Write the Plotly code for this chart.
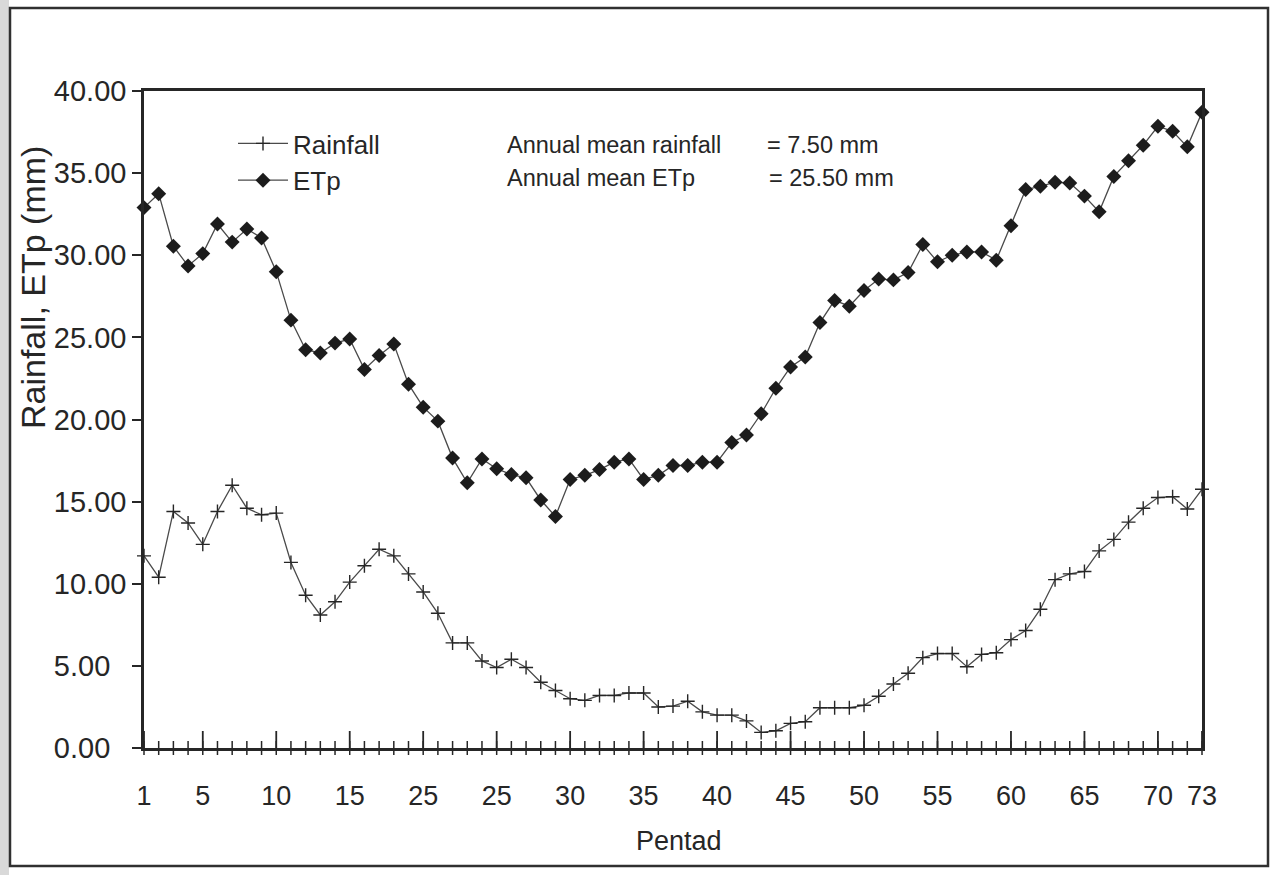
import plotly.graph_objects as go

# Pentad index (1..73) and pentad totals in mm
pentads = list(range(1, 74))

rainfall = [11.7, 10.4, 14.4, 13.7, 12.4, 14.4, 16.0, 14.6, 14.2, 14.3,
            11.3, 9.3, 8.1, 8.9, 10.1, 11.1, 12.1, 11.7, 10.6, 9.5,
            8.2, 6.4, 6.4, 5.3, 4.9, 5.4, 4.9, 4.0, 3.5, 3.0,
            2.9, 3.2, 3.2, 3.35, 3.35, 2.5, 2.55, 2.85, 2.2, 2.0,
            2.0, 1.65, 0.95, 1.05, 1.5, 1.6, 2.45, 2.45, 2.45, 2.6,
            3.15, 3.9, 4.55, 5.5, 5.75, 5.75, 4.95, 5.7, 5.8, 6.6,
            7.15, 8.45, 10.25, 10.6, 10.75, 12.0, 12.7, 13.75, 14.6, 15.25,
            15.3, 14.55, 15.75]

etp = [32.9, 33.75, 30.55, 29.35, 30.1, 31.9, 30.8, 31.6, 31.05, 29.0,
       26.05, 24.25, 24.05, 24.65, 24.9, 23.05, 23.9, 24.6, 22.15, 20.75,
       19.9, 17.65, 16.15, 17.6, 17.0, 16.65, 16.45, 15.1, 14.1, 16.35,
       16.6, 16.95, 17.4, 17.6, 16.35, 16.6, 17.2, 17.2, 17.4, 17.4,
       18.6, 19.05, 20.35, 21.9, 23.2, 23.8, 25.9, 27.25, 26.9, 27.85,
       28.55, 28.5, 28.95, 30.65, 29.6, 30.0, 30.2, 30.2, 29.7, 31.8,
       34.0, 34.2, 34.45, 34.4, 33.6, 32.65, 34.8, 35.75, 36.7, 37.85,
       37.55, 36.6, 38.7]

x_tick_vals = [1, 5, 10, 15, 20, 25, 30, 35, 40, 45, 50, 55, 60, 65, 70, 73]
x_tick_text = ["1", "5", "10", "15", "25", "25", "30", "35", "40", "45",
               "50", "55", "60", "65", "70", "73"]
y_tick_vals = [0, 5, 10, 15, 20, 25, 30, 35, 40]
y_tick_text = ["0.00", "5.00", "10.00", "15.00", "20.00", "25.00", "30.00",
               "35.00", "40.00"]

summary_labels = ["Annual mean rainfall", "Annual mean ETp"]
summary_values = ["= 7.50 mm", "= 25.50 mm"]

FONT = "Liberation Sans, Arial, Helvetica, sans-serif"
INK = "#262626"
LINE = "#4a4a4a"

# plot-area geometry in pixels, used to place free text in paper units
L, R, T, B = 144, 1202, 91, 748
W, H = R - L, B - T


def px_x(px):
    return (px - L) / W


def px_y(py):
    return (B - py) / H


# left-align the y tick labels by padding short ones with figure spaces
y_width = max(len(t) for t in y_tick_text)
y_tick_labels = [t + "\u2007" * (y_width - len(t)) for t in y_tick_text]

fig = go.Figure()

fig.add_trace(go.Scatter(
    x=pentads, y=rainfall, name="Rainfall", mode="lines+markers",
    line=dict(color=LINE, width=1.3),
    marker=dict(symbol="cross-thin", size=10, line=dict(color=INK, width=1.4)),
    cliponaxis=False,
))

fig.add_trace(go.Scatter(
    x=pentads, y=etp, name="ETp", mode="lines+markers",
    line=dict(color=LINE, width=1.3),
    marker=dict(symbol="diamond", size=11.5, color="#1c1c1c"),
    cliponaxis=False,
))

# small per-pentad ticks that straddle the horizontal axis
fig.add_trace(go.Scatter(
    x=pentads, y=[0] * len(pentads), mode="markers", showlegend=False,
    hoverinfo="skip",
    marker=dict(symbol="line-ns", size=10, line=dict(color=INK, width=1.5)),
    cliponaxis=False,
))

# long tick marks at the labelled pentads: 17 px above the axis, 8 px below
major_ticks = [
    dict(type="line", xref="x", yref="y", x0=v, x1=v,
         ysizemode="pixel", yanchor=0, y0=-8, y1=17,
         line=dict(color=INK, width=1.8), layer="above")
    for v in x_tick_vals
]

fig.update_xaxes(
    range=[1, 73], tickmode="array", tickvals=x_tick_vals, ticktext=x_tick_text,
    ticks="", showline=True, linewidth=2.5, linecolor=INK, mirror=True,
    showgrid=False, zeroline=False,
    tickfont=dict(family=FONT, size=27, color=INK),
    ticklabelstandoff=22,
)

fig.update_yaxes(
    range=[0, 40], tickmode="array", tickvals=y_tick_vals,
    ticktext=y_tick_labels,
    ticks="outside", ticklen=9, tickwidth=1.5, tickcolor=INK,
    showline=True, linewidth=2.5, linecolor=INK, mirror=True,
    showgrid=False, zeroline=False,
    tickfont=dict(family=FONT, size=29, color=INK),
)

annotations = [
    dict(text="Rainfall, ETp (mm)", textangle=-90, x=px_x(33), y=px_y(288),
         xref="paper", yref="paper", showarrow=False,
         xanchor="center", yanchor="middle",
         font=dict(family=FONT, size=34, color=INK)),
    dict(text="Pentad", x=px_x(679), y=px_y(841), xref="paper", yref="paper",
         showarrow=False, xanchor="center", yanchor="middle",
         font=dict(family=FONT, size=27, color=INK)),
]
rows_y = [145, 178]
value_x = [765, 767]
for lab, val, ry, vx in zip(summary_labels, summary_values, rows_y, value_x):
    annotations.append(dict(text=lab, x=px_x(505), y=px_y(ry), xref="paper",
                            yref="paper", showarrow=False, xanchor="left",
                            yanchor="middle",
                            font=dict(family=FONT, size=23.5, color=INK)))
    annotations.append(dict(text=val, x=px_x(vx), y=px_y(ry), xref="paper",
                            yref="paper", showarrow=False, xanchor="left",
                            yanchor="middle",
                            font=dict(family=FONT, size=23.5, color=INK)))

fig.update_layout(
    width=1283, height=875, autosize=False,
    margin=dict(l=L, r=1283 - R, t=T, b=875 - B),
    paper_bgcolor="white", plot_bgcolor="white",
    showlegend=True,
    legend=dict(x=px_x(233), y=px_y(120), xanchor="left", yanchor="top",
                bgcolor="rgba(0,0,0,0)", borderwidth=0, itemwidth=50,
                tracegroupgap=0, font=dict(family=FONT, size=26, color=INK)),
    annotations=annotations,
    shapes=[
        dict(type="rect", xref="paper", yref="paper",
             x0=px_x(0), x1=px_x(9), y0=px_y(875), y1=px_y(0),
             fillcolor="#d9d9d9", line=dict(width=0), layer="below"),
        dict(type="rect", xref="paper", yref="paper",
             x0=px_x(10), x1=px_x(1268), y0=px_y(866), y1=px_y(8),
             line=dict(color="#303030", width=2.5), layer="below"),
    ] + major_ticks,
)

fig.write_html("out.html")
